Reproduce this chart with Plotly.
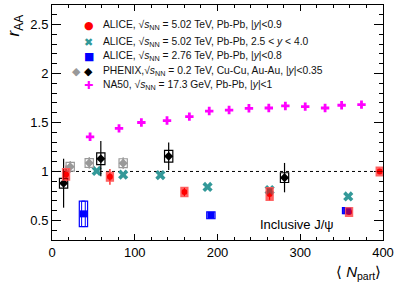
import plotly.graph_objects as go

# ALICE 5.02 TeV |y|<0.9
a5m_x = [17, 70, 160, 263, 359, 396]
a5m_y = [0.97, 0.945, 0.79, 0.77, 0.585, 1.0]
a5m_stat = [0.09, 0.08, 0.05, 0.07, 0.03, 0.02]
a5m_sys = [0.06, 0.045, 0.048, 0.065, 0.045, 0.045]
# ALICE 5.02 TeV 2.5<y<4
a5f_x = [54, 86, 131, 188, 263, 358]
a5f_y = [1.005, 0.967, 0.963, 0.842, 0.81, 0.745]
# ALICE 2.76 TeV |y|<0.8
a2_x = [38, 192, 356]
a2_y = [0.567, 0.552, 0.60]
a2_stat = [0.03, 0.03, 0.03]
a2_sys = [0.13, 0.035, 0.03]
# PHENIX Au-Au
phA_x = [14, 59, 141, 281]
phA_y = [0.88, 1.13, 1.155, 0.937]
phA_stat = [0.25, 0.18, 0.14, 0.15]
phA_sys = [0.05, 0.06, 0.06, 0.05]
# PHENIX Cu-Cu
phC_x = [22, 45, 86]
phC_y = [1.048, 1.087, 1.085]
phC_stat = [0.06, 0.06, 0.06]
phC_sys = [0.045, 0.045, 0.045]
# NA50
na_x = [46, 81, 108, 139, 166, 190, 214, 238, 262, 282, 306, 330, 350, 374]
na_y = [1.354, 1.44, 1.50, 1.52, 1.56, 1.617, 1.627, 1.645, 1.648, 1.669, 1.662, 1.648, 1.676, 1.683]

# legend labels
SQ = "√<i>s</i><sub>NN</sub>"
labels = [
    "ALICE, " + SQ + " = 5.02 TeV, Pb-Pb, |<i>y</i>|&lt;0.9",
    "ALICE, " + SQ + " = 5.02 TeV, Pb-Pb, 2.5 &lt; <i>y</i> &lt; 4.0",
    "ALICE, " + SQ + " = 2.76 TeV, Pb-Pb, |<i>y</i>|&lt;0.8",
    "PHENIX," + SQ + " = 0.2 TeV, Cu-Cu, Au-Au, |<i>y</i>|&lt;0.35",
    "NA50, " + SQ + " = 17.3 GeV, Pb-Pb, |<i>y</i>|&lt;1",
]

RED = "#ff0000"; TEAL = "#339999"; BLUE = "#0000ff"; GRAY = "#999999"; MAG = "#ff00ff"
FONT = "Liberation Sans, Arial, sans-serif"

fig = go.Figure()
shapes = []

def boxes(xs, ys, sys, hw, line, fill="rgba(0,0,0,0)", lw=1.2):
    for x, y, s in zip(xs, ys, sys):
        shapes.append(dict(type="rect", xref="x", yref="y", x0=x - hw, x1=x + hw,
                           y0=y - s, y1=y + s, line=dict(color=line, width=lw),
                           fillcolor=fill, layer="above"))

boxes(phC_x, phC_y, phC_sys, 5, GRAY)
boxes(phA_x, phA_y, phA_sys, 5, "black")
boxes(a2_x, a2_y, a2_sys, 5, BLUE)
boxes(a2_x[:1], a2_y[:1], a2_sys[:1], 2.2, BLUE, lw=1)
boxes(a5m_x, a5m_y, a5m_sys, 4.3, "rgba(255,90,90,0.9)", "rgba(255,0,0,0.6)")

fig.add_trace(go.Scatter(x=a5m_x, y=a5m_y, mode="markers", name=labels[0], showlegend=False,
                         error_y=dict(type="data", array=a5m_stat, color=RED, thickness=1.2, width=0),
                         marker=dict(symbol="circle", size=6, color=RED)))
fig.add_trace(go.Scatter(x=a5f_x, y=a5f_y, mode="markers", name=labels[1], showlegend=False,
                         marker=dict(symbol="x", size=9, color=TEAL)))
fig.add_trace(go.Scatter(x=a2_x, y=a2_y, mode="markers", name=labels[2], showlegend=False,
                         error_y=dict(type="data", array=a2_stat, color=BLUE, thickness=1.2, width=0),
                         marker=dict(symbol="square", size=7, color=BLUE)))
fig.add_trace(go.Scatter(x=phC_x, y=phC_y, mode="markers", name="PHENIX Cu-Cu", showlegend=False,
                         error_y=dict(type="data", array=phC_stat, color=GRAY, thickness=1.2, width=0),
                         marker=dict(symbol="diamond", size=7, color=GRAY)))
fig.add_trace(go.Scatter(x=phA_x, y=phA_y, mode="markers", name=labels[3], showlegend=False,
                         error_y=dict(type="data", array=phA_stat, color="black", thickness=1.2, width=0),
                         marker=dict(symbol="diamond", size=7, color="black")))
fig.add_trace(go.Scatter(x=na_x, y=na_y, mode="markers", name=labels[4], showlegend=False,
                         marker=dict(symbol="cross", size=7, color=MAG)))

shapes.append(dict(type="line", xref="x", yref="y", x0=0, x1=400, y0=1, y1=1,
                   line=dict(color="black", width=1, dash="dot"), layer="below"))

# manual legend
leg_y = [0.911, 0.841, 0.780, 0.719, 0.657]
leg_sym = ["●", "✖", "■", "◆", "✚"]
leg_col = [RED, TEAL, BLUE, "black", MAG]
annotations = []
for lab, yy, sym, col in zip(labels, leg_y, leg_sym, leg_col):
    annotations.append(dict(text=lab, xref="paper", yref="paper", x=0.148, y=yy,
                            xanchor="left", yanchor="middle", showarrow=False,
                            font=dict(family=FONT, size=10.3, color="#111")))
    annotations.append(dict(text=sym, xref="paper", yref="paper", x=0.111, y=yy,
                            xanchor="center", yanchor="middle", showarrow=False,
                            font=dict(family="DejaVu Sans", size=11, color=col)))
annotations.append(dict(text="◆", xref="paper", yref="paper", x=0.0734, y=leg_y[3],
                        xanchor="center", yanchor="middle", showarrow=False,
                        font=dict(family="DejaVu Sans", size=11, color=GRAY)))
annotations += [
    dict(text="<i>r</i><sub>AA</sub>", xref="paper", yref="paper", x=-0.112, y=0.968,
         xanchor="center", yanchor="top", textangle=-90, showarrow=False,
         font=dict(family=FONT, size=17, color="black")),
    dict(text="⟨ <i>N</i><sub>part</sub>⟩", xref="paper", yref="paper", x=1.0, y=-0.088,
         xanchor="right", yanchor="top", showarrow=False,
         font=dict(family=FONT, size=15, color="black")),
    dict(text="Inclusive J/ψ", xref="x", yref="y", x=296, y=0.455,
         showarrow=False, font=dict(family=FONT, size=13, color="black")),
]

common = dict(showline=True, linecolor="black", linewidth=1, mirror="allticks",
              ticks="inside", tickcolor="black", showgrid=False, zeroline=False,
              tickfont=dict(family=FONT, size=13, color="black"))
fig.update_layout(
    width=399, height=287, margin=dict(l=52, r=16, t=5, b=47),
    plot_bgcolor="white", paper_bgcolor="white", shapes=shapes, showlegend=False,
    xaxis=dict(range=[0, 400], tickvals=[0, 100, 200, 300, 400], ticklen=6,
               minor=dict(ticks="inside", ticklen=3, dtick=20, tickcolor="black", showgrid=False),
               **common),
    yaxis=dict(range=[0.3, 2.7], tickvals=[0.5, 1, 1.5, 2, 2.5], ticktext=["0.5", "1", "1.5", "2", "2.5"],
               ticklen=9,
               minor=dict(ticks="inside", ticklen=4.5, dtick=0.1, tickcolor="black", showgrid=False),
               **common),
    font=dict(family=FONT),
    annotations=annotations,
)
fig.write_html("out.html", config={"displayModeBar": False},
               post_script="document.body.style.margin='0';")
